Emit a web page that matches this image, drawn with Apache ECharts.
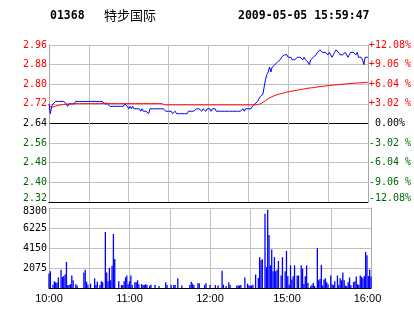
<!DOCTYPE html>
<html><head><meta charset="utf-8">
<script src="https://cdn.jsdelivr.net/npm/echarts/dist/echarts.min.js"></script>
<style>html,body{margin:0;padding:0;background:#fff}#c{width:414px;height:314px}</style>
</head><body><div id="c"></div>
<script>
const stockCode = '01368';
const stockName = '特步国际';
const timestamp = '2009-05-05 15:59:47';
const prevClose = 2.64;

// minute categories: morning 10:00-12:29, afternoon 14:30-16:00
const times = [];
for (let m = 600; m < 750; m++) times.push(String(Math.floor(m / 60)).padStart(2, '0') + ':' + String(m % 60).padStart(2, '0'));
for (let m = 870; m <= 960; m++) times.push(String(Math.floor(m / 60)).padStart(2, '0') + ':' + String(m % 60).padStart(2, '0'));

const xLabelIndex = [0, 60, 120, 180, 240];
const xLabelText = ['10:00', '11:00', '12:00', '15:00', '16:00'];

const priceTicks = [2.32, 2.40, 2.48, 2.56, 2.64, 2.72, 2.80, 2.88, 2.96];
const pctLabels = ['-12.08%', '-9.06 %', '-6.04 %', '-3.02 %', ' 0.00%', '+3.02 %', '+6.04 %', '+9.06 %', '+12.08%'];
const volTicks = [0, 2075, 4150, 6225, 8300];

const price = [
2.72,2.68,2.71,2.72,2.72,2.73,2.73,2.73,2.73,2.73,
2.73,2.73,2.73,2.72,2.71,2.72,2.72,2.72,2.72,2.72,
2.73,2.73,2.73,2.73,2.73,2.73,2.73,2.73,2.73,2.73,
2.73,2.73,2.73,2.73,2.73,2.73,2.73,2.73,2.73,2.73,
2.73,2.73,2.72,2.72,2.72,2.72,2.71,2.71,2.71,2.71,
2.71,2.71,2.71,2.71,2.71,2.71,2.71,2.72,2.72,2.71,
2.70,2.71,2.70,2.71,2.70,2.70,2.70,2.70,2.70,2.69,
2.70,2.69,2.69,2.69,2.69,2.68,2.70,2.70,2.70,2.70,
2.70,2.70,2.70,2.70,2.70,2.70,2.70,2.70,2.69,2.69,
2.69,2.69,2.69,2.68,2.68,2.69,2.68,2.68,2.68,2.68,
2.68,2.68,2.68,2.68,2.68,2.69,2.69,2.69,2.69,2.69,
2.69,2.70,2.70,2.70,2.70,2.69,2.70,2.70,2.69,2.70,
2.70,2.70,2.69,2.70,2.70,2.70,2.69,2.69,2.69,2.69,
2.69,2.69,2.69,2.69,2.69,2.69,2.69,2.69,2.69,2.69,
2.69,2.69,2.69,2.69,2.69,2.69,2.70,2.69,2.70,2.70,
2.70,2.70,2.70,2.71,2.71,2.72,2.72,2.73,2.74,2.75,
2.75,2.76,2.79,2.82,2.84,2.85,2.87,2.85,2.87,2.87,
2.88,2.88,2.89,2.89,2.90,2.91,2.91,2.92,2.92,2.92,
2.91,2.91,2.91,2.90,2.90,2.90,2.90,2.91,2.91,2.91,
2.91,2.90,2.91,2.90,2.90,2.89,2.88,2.90,2.90,2.91,
2.91,2.92,2.93,2.93,2.94,2.94,2.93,2.93,2.93,2.93,
2.92,2.93,2.93,2.91,2.92,2.93,2.94,2.94,2.93,2.92,
2.92,2.92,2.92,2.93,2.93,2.91,2.92,2.93,2.93,2.93,
2.93,2.92,2.93,2.91,2.91,2.91,2.90,2.88,2.91,2.91,
2.91
];

const avgPrice = [
2.717,2.708,2.705,2.707,2.709,2.711,2.713,2.714,2.715,2.716,
2.717,2.718,2.719,2.719,2.719,2.720,2.720,2.720,2.721,2.721,
2.721,2.721,2.721,2.721,2.721,2.721,2.721,2.721,2.721,2.721,
2.721,2.721,2.721,2.721,2.721,2.721,2.721,2.721,2.721,2.721,
2.721,2.722,2.723,2.723,2.722,2.722,2.721,2.721,2.721,2.721,
2.721,2.721,2.721,2.721,2.721,2.721,2.721,2.721,2.721,2.721,
2.721,2.721,2.721,2.721,2.721,2.721,2.721,2.721,2.721,2.721,
2.721,2.721,2.721,2.721,2.721,2.721,2.721,2.721,2.721,2.721,
2.721,2.721,2.721,2.721,2.721,2.721,2.721,2.716,2.716,2.716,
2.716,2.716,2.716,2.716,2.716,2.716,2.716,2.716,2.716,2.716,
2.716,2.716,2.716,2.716,2.716,2.716,2.716,2.716,2.716,2.716,
2.716,2.716,2.716,2.716,2.716,2.716,2.716,2.716,2.716,2.716,
2.716,2.716,2.716,2.716,2.716,2.716,2.716,2.716,2.716,2.716,
2.716,2.716,2.716,2.716,2.716,2.716,2.716,2.716,2.716,2.716,
2.716,2.716,2.716,2.716,2.716,2.716,2.716,2.716,2.716,2.716,
2.716,2.716,2.716,2.716,2.716,2.716,2.716,2.717,2.718,2.720,
2.722,2.726,2.730,2.734,2.738,2.741,2.744,2.747,2.750,2.752,
2.754,2.756,2.758,2.760,2.761,2.762,2.764,2.765,2.766,2.768,
2.769,2.770,2.771,2.772,2.773,2.774,2.775,2.776,2.777,2.778,
2.779,2.780,2.781,2.782,2.783,2.784,2.784,2.785,2.786,2.786,
2.787,2.788,2.789,2.790,2.790,2.791,2.792,2.792,2.793,2.794,
2.794,2.795,2.795,2.796,2.797,2.797,2.798,2.798,2.799,2.799,
2.800,2.800,2.801,2.801,2.802,2.802,2.803,2.803,2.804,2.804,
2.804,2.805,2.805,2.805,2.806,2.806,2.807,2.807,2.808,2.808,
2.808
];

const volume = [
1500,1750,0,350,700,600,550,1100,0,1900,
1150,1250,1400,2700,300,300,400,1300,800,0,
400,250,0,0,0,0,1600,1900,650,350,
0,450,0,0,1000,300,650,0,300,700,
600,0,5800,1600,700,2100,800,2300,5600,3000,
0,0,700,0,300,300,700,1100,1300,400,
700,1300,300,0,600,600,800,400,0,400,
300,300,400,300,0,250,350,0,0,350,
0,0,200,0,0,0,0,600,300,0,
0,350,0,300,300,0,1000,0,0,250,
0,0,0,0,0,300,650,450,300,0,
0,500,500,0,0,0,300,500,0,0,
300,0,0,0,300,0,250,0,0,1800,
350,0,200,0,600,300,0,0,0,0,
250,250,250,300,0,0,1100,0,450,250,
250,250,350,0,1400,0,1050,3200,2870,2970,
0,7700,2170,8120,5500,2350,4000,1750,3200,1750,
1900,2800,0,1300,3200,0,1750,3850,1220,350,
2350,870,1220,2350,0,1290,1290,0,2350,2000,
420,1220,2350,525,0,175,350,525,200,0,
4120,800,940,2400,250,870,1010,600,400,0,
1300,400,300,700,0,1300,300,1000,800,1600,
800,250,200,600,1100,300,0,600,700,1200,
400,300,1300,1150,1000,1250,3740,3390,1250,1900,
1200
];

const RED = '#ff0000', GREEN = '#006600', BLACK = '#000000', GRID = '#c0c0c0', AXIS = '#a8a8a8';
const priceColor = v => { v = +v; return Math.abs(v - prevClose) < 1e-6 ? BLACK : (v > prevClose ? RED : GREEN); };
const tickIdx = v => Math.round((+v - priceTicks[0]) / 0.08);
const isGridX = i => i % 30 === 0;
const monoFont = 'DejaVu Sans Mono';
const lowRich = { lo: { fontFamily: monoFont, fontSize: 10, padding: [0, 0, 8, 0] } };
const volRich = { hi: { fontFamily: monoFont, fontSize: 10, color: BLACK, padding: [6, 0, 0, 0] } };

const chart = echarts.init(document.getElementById('c'), null, { renderer: 'canvas' });
chart.setOption({
  animation: false,
  backgroundColor: '#ffffff',
  graphic: [
    { type: 'text', left: 50, top: 10.5, style: { text: stockCode, font: 'bold 11.5px "DejaVu Sans Mono"', fill: BLACK } },
    { type: 'text', left: 104, top: 8.5, style: { text: stockName, font: '13px "Noto Sans CJK SC"', fill: BLACK } },
    { type: 'text', left: 238, top: 10.5, style: { text: timestamp, font: 'bold 11.5px "DejaVu Sans Mono"', fill: BLACK } }
  ],
  grid: [
    { left: 49, right: 43, top: 45, height: 157 },
    { left: 49, right: 43, top: 208, height: 80 }
  ],
  xAxis: [
    { type: 'category', gridIndex: 0, data: times, boundaryGap: false,
      axisLine: { show: true, lineStyle: { color: BLACK, width: 1 } }, axisTick: { show: false }, axisLabel: { show: false },
      splitLine: { show: true, interval: isGridX, lineStyle: { color: GRID, width: 1 } } },
    { type: 'category', gridIndex: 1, data: times, boundaryGap: false,
      axisLine: { show: true, lineStyle: { color: BLACK, width: 1 } }, axisTick: { show: false },
      axisLabel: { show: true, margin: 5, fontFamily: 'Liberation Sans', fontSize: 11, color: BLACK,
        interval: (i) => xLabelIndex.indexOf(i) >= 0,
        formatter: (val, i) => { const k = xLabelIndex.indexOf(i); if (k < 0) return ''; const t = xLabelText[k]; return k >= 3 ? '{s|' + t + '}' : t; },
        rich: { s: { fontFamily: 'Liberation Sans', fontSize: 11, color: BLACK, padding: [0, 7, 0, 0] } } },
      splitLine: { show: true, interval: isGridX, lineStyle: { color: GRID, width: 1 } } }
  ],
  yAxis: [
    { type: 'value', gridIndex: 0, position: 'left', min: priceTicks[0], max: priceTicks[8], interval: 0.08,
      axisLine: { show: true, lineStyle: { color: AXIS } }, axisTick: { show: false },
      axisLabel: { margin: 2, fontFamily: monoFont, fontSize: 10, rich: lowRich,
        formatter: v => { const t = (+v).toFixed(2); return tickIdx(v) === 0 ? '{lo|' + t + '}' : t; },
        color: v => priceColor(v) },
      splitLine: { show: true, lineStyle: { color: [BLACK, GRID, GRID, GRID, BLACK, GRID, GRID, GRID, GRID], width: 1 } } },
    { type: 'value', gridIndex: 0, position: 'right', min: priceTicks[0], max: priceTicks[8], interval: 0.08,
      axisLine: { show: true, lineStyle: { color: AXIS } }, axisTick: { show: false },
      axisLabel: { margin: 1, fontFamily: monoFont, fontSize: 10, rich: lowRich,
        formatter: v => { const t = pctLabels[tickIdx(v)] || ''; return tickIdx(v) === 0 ? '{lo|' + t + '}' : t; },
        color: v => priceColor(v) },
      splitLine: { show: false } },
    { type: 'value', gridIndex: 1, position: 'left', min: volTicks[0], max: volTicks[4], interval: 2075,
      axisLine: { show: true, lineStyle: { color: AXIS } }, axisTick: { show: false },
      axisLabel: { margin: 2, fontFamily: monoFont, fontSize: 10, color: BLACK, rich: volRich,
        formatter: v => (+v === 0 ? '' : (+v === volTicks[4] ? '{hi|' + v + '}' : String(v))) },
      splitLine: { show: true, lineStyle: { color: [BLACK, GRID, GRID, GRID, GRID], width: 1 } } },
    { type: 'value', gridIndex: 1, position: 'right', min: volTicks[0], max: volTicks[4], interval: 2075,
      axisLine: { show: true, lineStyle: { color: AXIS } }, axisTick: { show: false }, axisLabel: { show: false }, splitLine: { show: false } }
  ],
  series: [
    { type: 'line', xAxisIndex: 0, yAxisIndex: 0, data: price, showSymbol: false, symbol: 'none',
      lineStyle: { color: '#0000ff', width: 1 }, z: 3 },
    { type: 'line', xAxisIndex: 0, yAxisIndex: 0, data: avgPrice, showSymbol: false, symbol: 'none',
      lineStyle: { color: RED, width: 1 }, z: 4 },
    { type: 'bar', xAxisIndex: 1, yAxisIndex: 2, data: volume, barWidth: 1.3, itemStyle: { color: '#0000ff' } }
  ]
});
</script>
</body></html>
